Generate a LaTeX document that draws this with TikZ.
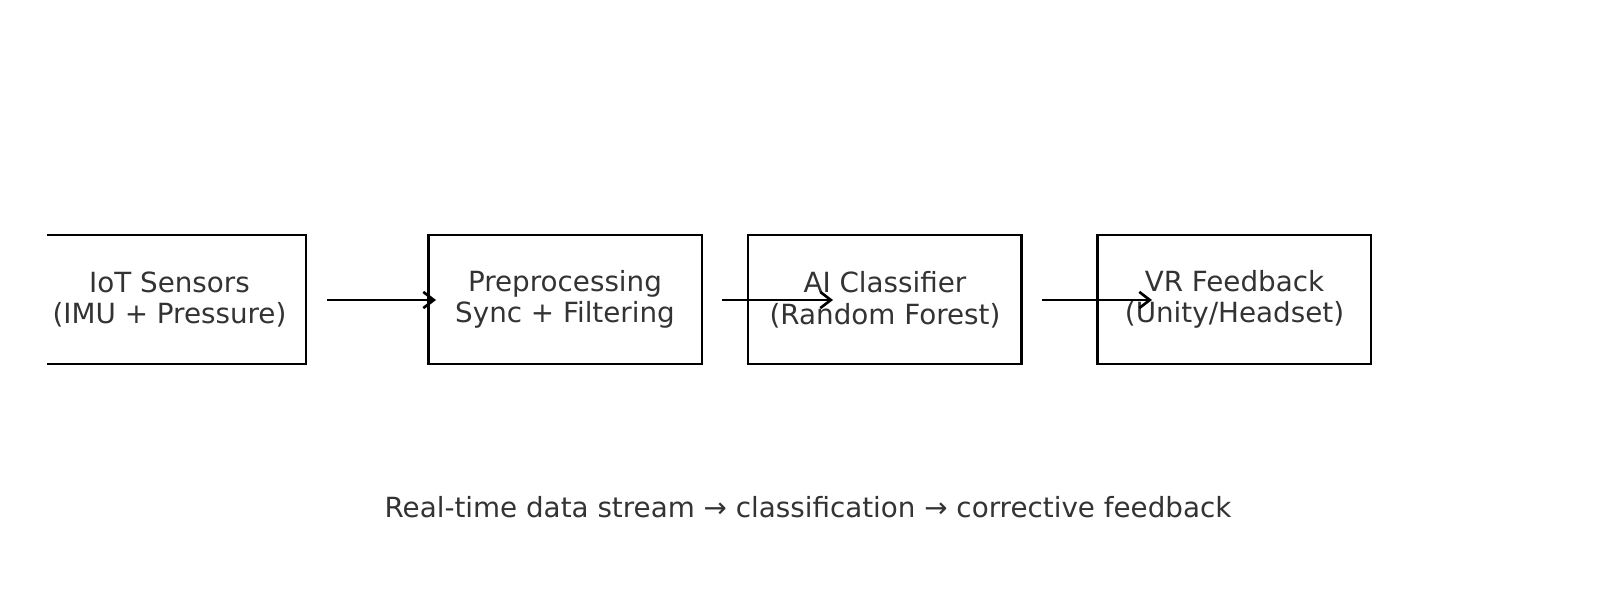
\documentclass[tikz,border=0pt]{standalone}
\usepackage{fontspec}
\setmainfont{DejaVu Sans}
\usetikzlibrary{arrows.meta}
\definecolor{txt}{HTML}{333333}
\tikzset{
  boxlbl/.style={text=txt, font=\fontsize{7.9pt}{9pt}\selectfont, align=center, inner sep=0pt},
  boxline/.style={draw=black, line width=0.8pt},
  flow/.style={draw=black, line width=0.6pt, -{Straight Barb[length=3pt,width=4.6pt,line width=0.75pt]}},
}
\begin{document}
\begin{tikzpicture}[x=0.01cm,y=-0.01cm]
\useasboundingbox (0,0) rectangle (1600,600);
% box 1 (left side clipped)
\draw[boxline] (47,235) -- (306,235) -- (306,364) -- (47,364);
\node[boxlbl] (b1) at (169.5,299.5) {IoT Sensors\\(IMU + Pressure)};
% boxes 2-4
\draw[boxline] (428.5,235) rectangle (702,364);
\node[boxlbl] (b2) at (565,299.5) {Preprocessing\\Sync + Filtering};
\draw[boxline] (748,235) rectangle (1021.5,364);
\node[boxlbl] (b3) at (885,299.5) {AI Classifier\\(Random Forest)};
\draw[boxline] (1097.5,235) rectangle (1371,364);
\node[boxlbl] (b4) at (1234.5,299.5) {VR Feedback\\(Unity/Headset)};
% arrows
\coordinate (a1s) at (327,300); \coordinate (a1e) at (436,300);
\coordinate (a2s) at (722,300); \coordinate (a2e) at (833,300);
\coordinate (a3s) at (1042,300); \coordinate (a3e) at (1152,300);
\draw[flow] (a1s) -- (a1e);
\draw[flow] (a2s) -- (a2e);
\draw[flow] (a3s) -- (a3e);
% caption
\node[boxlbl] (cap) at (808,507) {Real-time data stream → classification → corrective feedback};
\end{tikzpicture}
\end{document}
